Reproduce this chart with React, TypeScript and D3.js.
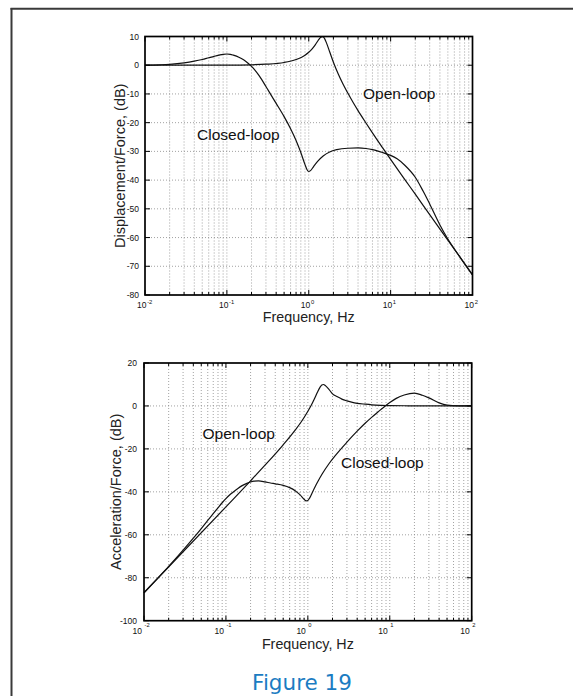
import React from "react";
import * as d3 from "d3";

// ---------- data ----------
const openFreq = [0.01, 0.1, 0.2, 0.3, 0.5, 0.7, 0.82, 0.9, 1.0, 1.1, 1.2, 1.3, 1.4, 1.48, 1.55, 1.65, 1.8, 2.0, 2.3, 2.6, 3.0, 3.5, 4, 5, 6, 8, 10, 15, 20, 30, 50, 70, 100];
const openDisp = [0, 0.04, 0.15, 0.35, 0.96, 1.98, 2.8, 3.5, 4.5, 5.7, 7.1, 8.6, 9.75, 9.98, 9.43, 7.7, 4.7, 1.04, -3.15, -6.36, -9.7, -13.08, -15.8, -20.1, -23.55, -28.8, -32.8, -39.9, -44.9, -52.0, -60.9, -66.76, -72.96];
const openAcc = [-87.0, -47.0, -34.85, -27.6, -18.1, -11.26, -7.7, -5.4, -2.5, 0.3, 3.2, 6.1, 8.55, 9.75, 10.0, 9.36, 7.87, 5.6, 4.27, 3.19, 2.34, 1.64, 1.24, 0.82, 0.53, 0.28, 0.16, 0.1, 0.05, 0.02, 0, 0, 0];

const closedFreq = [0.01, 0.015, 0.02, 0.03, 0.04, 0.05, 0.06, 0.07, 0.08, 0.09, 0.1, 0.11, 0.12, 0.14, 0.16, 0.18, 0.2, 0.22, 0.25, 0.3, 0.35, 0.4, 0.5, 0.6, 0.7, 0.8, 0.9, 0.95, 1.0, 1.05, 1.15, 1.3, 1.5, 1.8, 2.2, 3, 4, 5, 6, 7, 8, 10, 12, 15, 20, 25, 30, 40, 50, 70, 100];
const closedDisp = [0.05, 0.15, 0.3, 0.8, 1.4, 2.0, 2.6, 3.1, 3.5, 3.8, 3.9, 3.8, 3.5, 2.8, 1.9, 0.8, -0.4, -1.7, -3.8, -7.4, -10.6, -13.3, -17.9, -22.1, -26.2, -30.4, -34.6, -36.3, -37.0, -36.7, -35.2, -33.3, -31.6, -30.2, -29.4, -28.9, -28.8, -29.0, -29.4, -29.9, -30.4, -31.4, -32.6, -34.9, -39.0, -43.9, -48.3, -55.6, -60.5, -66.7, -73.0];
const closedAcc = [-86.99, -79.85, -74.7, -67.16, -61.56, -57.08, -53.32, -50.14, -47.42, -45.07, -43.14, -41.59, -40.38, -38.4, -36.98, -36.03, -35.4, -35.05, -34.93, -35.36, -35.88, -36.26, -36.98, -38.02, -39.44, -41.32, -43.47, -44.23, -44.04, -42.9, -39.8, -35.79, -31.6, -27.03, -22.75, -16.86, -11.76, -8.08, -5.32, -3.14, -1.32, 1.56, 3.52, 5.1, 6.0, 4.97, 3.74, 1.44, 0.42, 0.06, 0];

const dispYTicks = [10, 0, -10, -20, -30, -40, -50, -60, -70, -80];
const accYTicks = [20, 0, -20, -40, -60, -80, -100];
const xDecadeExps = [-2, -1, 0, 1, 2];

const FONT = "'Liberation Sans', Arial, Helvetica, sans-serif";

type Series = { f: number[]; v: number[] };

type PanelProps = {
  left: number;
  right: number;
  top: number;
  bottom: number;
  yDomain: [number, number];
  yTicks: number[];
  series: Series[];
  yLabel: string;
  yLabelX: number;
  xLabelY: number;
  spacedExp: boolean;
  yTickRight: number;
  notes: { text: string; x: number; y: number }[];
};

function Panel(p: PanelProps) {
  const x = d3.scaleLog().domain([0.01, 100]).range([p.left, p.right]);
  const y = d3.scaleLinear().domain(p.yDomain).range([p.bottom, p.top]);
  const allX = x.ticks();
  const isMajor = (t: number) => Math.abs(Math.log10(t) - Math.round(Math.log10(t))) < 1e-6;
  const line = d3
    .line<[number, number]>()
    .x((d) => x(d[0]))
    .y((d) => y(d[1]))
    .curve(d3.curveMonotoneX);
  const gridDash = "1 2";
  const gridColor = "#8a8a8a";
  const cy = (p.top + p.bottom) / 2;
  const cx = (p.left + p.right) / 2;
  return (
    <g>
      {allX.map((t, i) =>
        t > 0.01 && t < 100 ? (
          <line key={"vg" + i} x1={x(t)} x2={x(t)} y1={p.top} y2={p.bottom} stroke={gridColor} strokeWidth={0.8} strokeDasharray={gridDash} />
        ) : null
      )}
      {p.yTicks.map((t, i) =>
        t > p.yDomain[0] && t < p.yDomain[1] ? (
          <line key={"hg" + i} x1={p.left} x2={p.right} y1={y(t)} y2={y(t)} stroke={gridColor} strokeWidth={0.8} strokeDasharray={gridDash} />
        ) : null
      )}
      {p.series.map((s, i) => (
        <path key={"s" + i} d={line(s.f.map((f, j) => [f, s.v[j]] as [number, number])) || ""} fill="none" stroke="#111" strokeWidth={1.2} />
      ))}
      {allX.map((t, i) => {
        const len = isMajor(t) ? 5 : 3;
        return (
          <g key={"xt" + i}>
            <line x1={x(t)} x2={x(t)} y1={p.bottom} y2={p.bottom - len} stroke="#000" strokeWidth={1} />
            <line x1={x(t)} x2={x(t)} y1={p.top} y2={p.top + len} stroke="#000" strokeWidth={1} />
          </g>
        );
      })}
      {p.yTicks.map((t, i) => (
        <g key={"yt" + i}>
          <line x1={p.left} x2={p.left + 5} y1={y(t)} y2={y(t)} stroke="#000" strokeWidth={1} />
          <line x1={p.right} x2={p.right - 5} y1={y(t)} y2={y(t)} stroke="#000" strokeWidth={1} />
        </g>
      ))}
      <rect x={p.left} y={p.top} width={p.right - p.left} height={p.bottom - p.top} fill="none" stroke="#000" strokeWidth={1.7} />
      {p.yTicks.map((t, i) => (
        <text key={"yl" + i} x={p.yTickRight} y={y(t) + 3} textAnchor="end" fontSize={8.5} fontFamily={FONT} fill="#111">
          {t}
        </text>
      ))}
      {xDecadeExps.map((e, i) => {
        const tx = x(Math.pow(10, e));
        if (p.spacedExp) {
          return (
            <g key={"xl" + i}>
              <text x={tx - 2} y={p.bottom + 13} textAnchor="end" fontSize={8.5} fontFamily={FONT} fill="#111">10</text>
              <text x={tx + 0.5} y={p.bottom + 6.5} textAnchor="start" fontSize={5.8} fontFamily={FONT} fill="#111">{e}</text>
            </g>
          );
        }
        return (
          <g key={"xl" + i}>
            <text x={tx + 1.5} y={p.bottom + 12.5} textAnchor="end" fontSize={8.5} fontFamily={FONT} fill="#111">10</text>
            <text x={tx + 2.2} y={p.bottom + 8.5} textAnchor="start" fontSize={5.8} fontFamily={FONT} fill="#111">{e}</text>
          </g>
        );
      })}
      <text x={cx} y={p.xLabelY} textAnchor="middle" fontSize={14.3} fontFamily={FONT} fill="#222">
        Frequency, Hz
      </text>
      <text
        transform={`translate(${p.yLabelX},${cy}) rotate(-90)`}
        textAnchor="middle"
        fontSize={14.5}
        fontFamily={FONT}
        fill="#222"
      >
        {p.yLabel}
      </text>
      {p.notes.map((n, i) => (
        <text key={"n" + i} x={n.x} y={n.y} fontSize={15.5} fontFamily={FONT} fill="#111">
          {n.text}
        </text>
      ))}
    </g>
  );
}

export default function App() {
  return (
    <div style={{ position: "absolute", left: 0, top: 0 }}>
      <svg width={573} height={696} style={{ display: "block", background: "#fff" }}>
        <rect x={0} y={0} width={573} height={696} fill="#fff" />
        <line x1={11.5} x2={11.5} y1={8} y2={696} stroke="#3a3a3a" strokeWidth={2} />
        <line x1={10.5} x2={573} y1={8.8} y2={8.8} stroke="#3a3a3a" strokeWidth={2} />

        <Panel
          left={145}
          right={472.5}
          top={36.5}
          bottom={295}
          yDomain={[-80, 10]}
          yTicks={dispYTicks}
          series={[
            { f: openFreq, v: openDisp },
            { f: closedFreq, v: closedDisp },
          ]}
          yLabel="Displacement/Force, (dB)"
          yLabelX={125}
          xLabelY={322}
          spacedExp={false}
          yTickRight={139}
          notes={[
            { text: "Closed-loop", x: 197, y: 140 },
            { text: "Open-loop", x: 363, y: 99 },
          ]}
        />
        <Panel
          left={144}
          right={471.7}
          top={363}
          bottom={620.7}
          yDomain={[-100, 20]}
          yTicks={accYTicks}
          series={[
            { f: openFreq, v: openAcc },
            { f: closedFreq, v: closedAcc },
          ]}
          yLabel="Acceleration/Force, (dB)"
          yLabelX={120.5}
          xLabelY={649}
          spacedExp={true}
          yTickRight={137}
          notes={[
            { text: "Open-loop", x: 202.5, y: 439 },
            { text: "Closed-loop", x: 341, y: 468 },
          ]}
        />
        <text x={302} y={690} textAnchor="middle" fontSize={21.5} fontFamily="'DejaVu Sans', Verdana, sans-serif" fill="#1b7cc2">
          Figure 19
        </text>
      </svg>
    </div>
  );
}
